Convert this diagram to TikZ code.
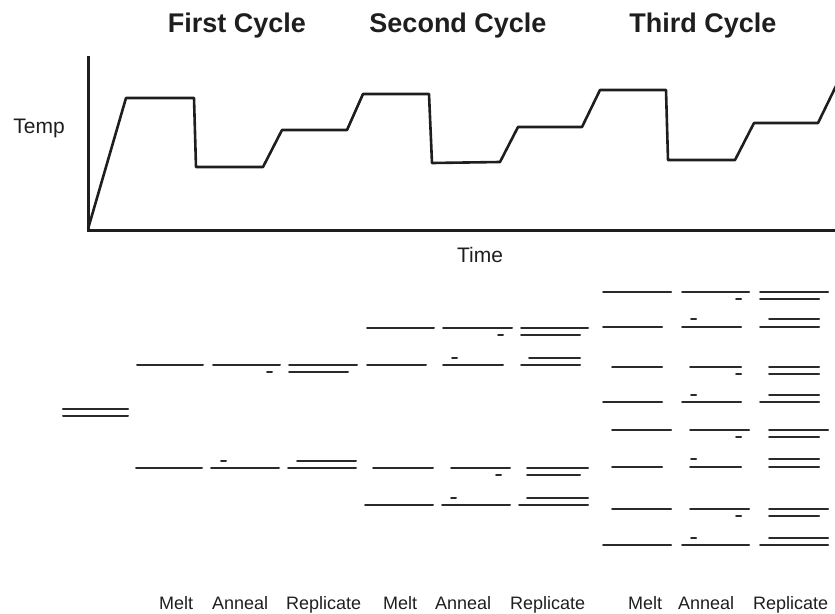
\documentclass[tikz,border=0pt]{standalone}
\usepackage{fontspec}
\setmainfont{Liberation Sans}
\definecolor{ink}{HTML}{1E1E1E}
\definecolor{strandc}{HTML}{2A2A2A}
\newcommand{\seg}[3]{\draw[strand] (#1,#3) -- (#2,#3);}
\begin{document}
\begin{tikzpicture}[x=1pt,y=-1pt,
  axis/.style={draw=ink,line width=3pt,line cap=rect},
  curve/.style={draw=ink,line width=2.6pt,line join=round},
  strand/.style={draw=strandc,line width=2pt,line cap=round},
  title/.style={font=\fontsize{27}{30}\selectfont\bfseries,text=ink,anchor=base,inner sep=0pt},
  lab/.style={font=\fontsize{21}{24}\selectfont,text=ink,anchor=base,inner sep=0pt},
  steplab/.style={font=\fontsize{18}{21}\selectfont,text=ink,anchor=base west,inner sep=0pt}]
\useasboundingbox (0,0) rectangle (835,613);
% titles
\node[title] (t1) at (237,32) {First Cycle};
\node[title] (t2) at (458,32) {Second Cycle};
\node[title] (t3) at (703,32) {Third Cycle};
\node[lab] (temp) at (39,133) {Temp};
\node[lab] (time) at (480,262) {Time};
% axes
\draw[axis] (88,57) -- (88,230) -- (836,230);
% temperature curve
\draw[curve] (88,229) -- (126,98) -- (194,98) -- (196,167) -- (263,167) -- (282,130) -- (347,130) -- (363,94) -- (429,94) -- (432,163) -- (500,162) -- (518,127) -- (582,127) -- (600,90) -- (666,90) -- (668,160) -- (735,160) -- (754,123) -- (818,123) -- (836,86);
% initial duplex
\draw[strand,line width=2.4pt] (63,409) -- (128,409);
\seg{63}{128}{416}
% cycle 1
\seg{137}{203}{365} \seg{136}{202}{468}
\seg{213}{280}{365} \seg{267}{272}{372} \seg{221}{226}{461} \seg{211}{279}{468}
\seg{289}{357}{365} \seg{289}{348}{372} \seg{297}{356}{461} \seg{288}{356}{468}
% cycle 2
\seg{367}{434}{328} \seg{367}{426}{365} \seg{373}{433}{468} \seg{365}{433}{505}
\seg{443}{512}{328} \seg{498}{503}{335} \seg{452}{457}{358} \seg{443}{503}{365}
\seg{451}{510}{468} \seg{496}{501}{475} \seg{451}{456}{498} \seg{442}{510}{505}
\seg{521}{588}{328} \seg{521}{580}{335} \seg{529}{580}{358} \seg{521}{580}{365}
\seg{527}{588}{468} \seg{527}{580}{475} \seg{527}{588}{498} \seg{519}{588}{505}
% cycle 3 melt
\seg{603}{671}{292} \seg{603}{662}{327} \seg{612}{662}{367} \seg{603}{662}{402}
\seg{612}{671}{430} \seg{612}{662}{467} \seg{612}{671}{509} \seg{603}{671}{545}
% cycle 3 anneal
\seg{682}{749}{292} \seg{736}{741}{299} \seg{691}{696}{319} \seg{682}{741}{327}
\seg{690}{741}{367} \seg{736}{741}{374} \seg{691}{696}{395} \seg{682}{741}{402}
\seg{690}{749}{430} \seg{736}{741}{437} \seg{691}{696}{459} \seg{690}{741}{467}
\seg{690}{749}{509} \seg{736}{741}{516} \seg{691}{696}{538} \seg{682}{749}{545}
% cycle 3 replicate
\seg{760}{828}{292} \seg{760}{819}{299} \seg{769}{819}{319} \seg{760}{819}{327}
\seg{769}{819}{367} \seg{769}{819}{374} \seg{769}{819}{395} \seg{760}{819}{402}
\seg{769}{828}{430} \seg{769}{819}{437} \seg{769}{819}{459} \seg{769}{819}{467}
\seg{769}{828}{509} \seg{769}{819}{516} \seg{769}{828}{538} \seg{760}{828}{545}
% step labels
\node[steplab] (m1) at (159,609) {Melt};
\node[steplab] (a1) at (212,609) {Anneal};
\node[steplab] (r1) at (286,609) {Replicate};
\node[steplab] (m2) at (383,609) {Melt};
\node[steplab] (a2) at (435,609) {Anneal};
\node[steplab] (r2) at (510,609) {Replicate};
\node[steplab] (m3) at (628,609) {Melt};
\node[steplab] (a3) at (678,609) {Anneal};
\node[steplab] (r3) at (753,609) {Replicate};
\end{tikzpicture}
\end{document}
